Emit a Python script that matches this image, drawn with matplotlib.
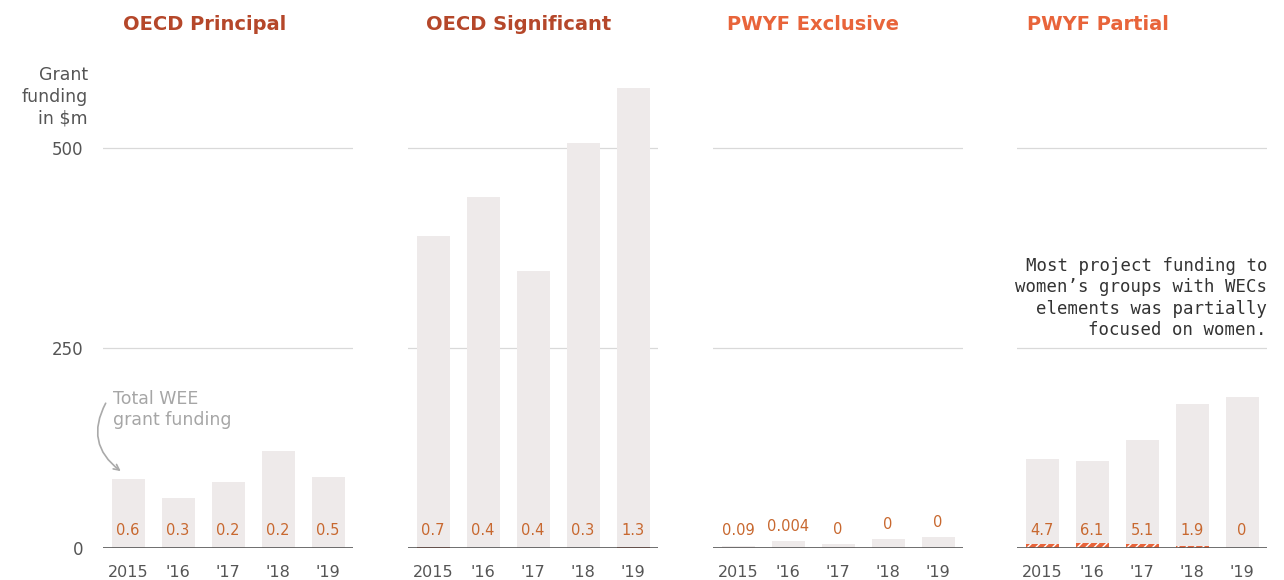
import numpy as np
import matplotlib

matplotlib.use("Agg")
import matplotlib.pyplot as plt

plt.rcParams.update({"font.family": ["DejaVu Sans"]})

BAR_BG = "#EEEAEA"
GRID = "#D9D9D9"
AXIS = "#555555"
TXT = "#555555"
OECD_C = "#B5472A"
PWYF_C = "#E8643A"
LABEL_C = "#C8682F"

years = ["2015", "'16", "'17", "'18", "'19"]
titles = ["OECD Principal", "OECD Significant", "PWYF Exclusive", "PWYF Partial"]
title_colors = [OECD_C, OECD_C, PWYF_C, PWYF_C]

# total WEE grant funding ($m)
totals = [
    [86, 62, 82, 121, 89],
    [390, 439, 346, 506, 575],
    [2.5, 9, 5, 11, 14],
    [111, 109, 135, 180, 189],
]
# funding to women's groups ($m)
women = [
    [0.6, 0.3, 0.2, 0.2, 0.5],
    [0.7, 0.4, 0.4, 0.3, 1.3],
    [0.09, 0.004, 0, 0, 0],
    [4.7, 6.1, 5.1, 1.9, 0],
]
women_labels = [
    ["0.6", "0.3", "0.2", "0.2", "0.5"],
    ["0.7", "0.4", "0.4", "0.3", "1.3"],
    ["0.09", "0.004", "0", "0", "0"],
    ["4.7", "6.1", "5.1", "1.9", "0"],
]

W, H = 1284, 580
fig = plt.figure(figsize=(W / 100, H / 100), dpi=100)

ax_left = [103, 408, 713, 1017]
ax_w = 250
y_bot, y_top = 548, 68
title_x = [123, 426, 727, 1027]

x = np.arange(len(years))
for i in range(4):
    ax = fig.add_axes([ax_left[i] / W, (H - y_bot) / H, ax_w / W, (y_bot - y_top) / H])
    ax.set_xlim(-0.5, 4.5)
    ax.set_ylim(0, 600)
    for s in ax.spines.values():
        s.set_visible(False)
    for g in [250, 500]:
        ax.axhline(g, color=GRID, lw=0.9, zorder=0)
    ax.bar(x, totals[i], width=0.66, color=BAR_BG, zorder=1)
    if i == 3:
        ax.bar(x, women[i], width=0.66, color=PWYF_C, hatch="////", edgecolor="white",
               linewidth=0, zorder=2)
    else:
        ax.bar(x, women[i], width=0.66, color=title_colors[i], zorder=2)
    ax.axhline(0, color=AXIS, lw=1.2, zorder=3)
    for j in range(len(years)):
        if i == 2:
            yy = max(22, totals[i][j] + 18)
        else:
            yy = 22
        ax.text(x[j], yy, women_labels[i][j], ha="center", va="center",
                fontsize=10.5, color=LABEL_C, zorder=4)
    ax.set_xticks(x)
    ax.set_xticklabels(years, fontsize=11.5, color=TXT)
    ax.tick_params(axis="x", length=0, pad=12)
    if i == 0:
        ax.set_yticks([0, 250, 500])
        ax.set_yticklabels(["0", "250", "500"], fontsize=12, color=TXT)
        ax.tick_params(axis="y", length=0, pad=14)
        ax.text(-0.8, 525, "Grant\nfunding\nin $m", ha="right", va="bottom",
                fontsize=12.5, color=TXT, linespacing=1.3)
        ax.annotate("", xy=(-0.1, 94), xytext=(-0.42, 184),
                    arrowprops=dict(arrowstyle="->", color="#AAAAAA", lw=1.2,
                                    connectionstyle="arc3,rad=0.45"))
        ax.text(-0.3, 198, "Total WEE\ngrant funding", ha="left", va="top",
                fontsize=12.5, color="#A6A6A6", linespacing=1.25)
    else:
        ax.set_yticks([])
    if i == 3:
        ax.text(4.5, 364, "Most project funding to\nwomen\u2019s groups with WECs\n"
                "elements was partially\nfocused on women.",
                ha="right", va="top", fontsize=12.5, family="DejaVu Sans Mono",
                color="#333333", linespacing=1.25)
    fig.text(title_x[i] / W, 1 - 25 / H, titles[i], ha="left", va="center",
             fontsize=14, fontweight="bold", color=title_colors[i])

fig.savefig("out.png", dpi=100)
